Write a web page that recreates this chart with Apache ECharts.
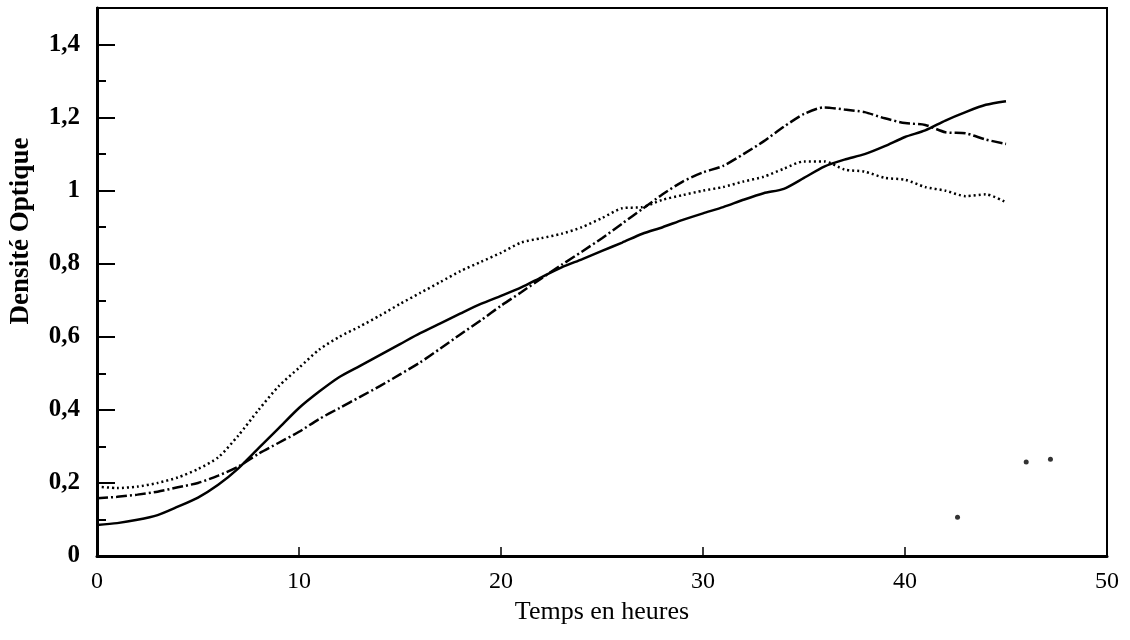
<!DOCTYPE html>
<html>
<head>
<meta charset="utf-8">
<title>Densité Optique</title>
<script src="https://cdn.jsdelivr.net/npm/echarts@6.0.0/dist/echarts.min.js"></script>
<style>
  html, body { margin: 0; padding: 0; background: #fff; }
  #chart { width: 1130px; height: 640px; }
</style>
</head>
<body>
<div id="chart"></div>
<script>
// temps en heures (lecture toutes les heures)
var hours = [0, 1, 2, 3, 4, 5, 6, 7, 8, 9, 10, 11, 12, 13, 14, 15, 16, 17, 18, 19, 20, 21, 22,
    23, 24, 25, 26, 27, 28, 29, 30, 31, 32, 33, 34, 35, 36, 37, 38, 39, 40, 41, 42, 43, 44, 45];

// courbe continue (départ 0,085)
var solidValues = [0.085, 0.090, 0.099, 0.112, 0.135, 0.160, 0.195, 0.240, 0.295, 0.350, 0.405,
    0.450, 0.490, 0.520, 0.550, 0.580, 0.610, 0.637, 0.664, 0.690, 0.712, 0.735, 0.763,
    0.790, 0.812, 0.835, 0.858, 0.882, 0.900, 0.920, 0.938, 0.955, 0.975, 0.993, 1.005,
    1.035, 1.066, 1.085, 1.100, 1.122, 1.147, 1.165, 1.192, 1.215, 1.235, 1.245];

// courbe tiret-point (départ 0,16)
var dashDotValues = [0.158, 0.162, 0.168, 0.176, 0.188, 0.200, 0.220, 0.245, 0.280, 0.310, 0.340,
    0.375, 0.405, 0.435, 0.465, 0.497, 0.530, 0.568, 0.607, 0.645, 0.685, 0.722, 0.760,
    0.797, 0.833, 0.870, 0.910, 0.950, 0.990, 1.025, 1.050, 1.068, 1.100, 1.135, 1.175,
    1.210, 1.228, 1.222, 1.215, 1.198, 1.185, 1.180, 1.160, 1.157, 1.140, 1.128];

// courbe pointillée (départ 0,19)
var dottedValues = [0.190, 0.186, 0.190, 0.200, 0.215, 0.238, 0.270, 0.330, 0.400, 0.465, 0.515,
    0.565, 0.600, 0.628, 0.658, 0.690, 0.720, 0.750, 0.780, 0.805, 0.830, 0.858, 0.870,
    0.882, 0.900, 0.925, 0.952, 0.955, 0.975, 0.988, 1.000, 1.010, 1.025, 1.038, 1.060,
    1.080, 1.080, 1.058, 1.052, 1.035, 1.030, 1.010, 1.000, 0.985, 0.990, 0.968];

// points isolés (taches du document)
var specks = [[42.6, 0.106], [46.0, 0.257], [47.2, 0.265]];

function pairs(xs, ys) {
    var out = [];
    for (var i = 0; i < xs.length; i++) out.push([xs[i], ys[i]]);
    return out;
}

var serif = '"Liberation Serif", "DejaVu Serif", serif';

var chart = echarts.init(document.getElementById('chart'));
var option = {
    animation: false,
    backgroundColor: '#fff',
    grid: {
        left: 97, right: 23, top: 8, bottom: 84,
        show: true,
        borderColor: '#000',
        borderWidth: 2
    },
    xAxis: {
        type: 'value',
        min: 0, max: 50, interval: 10,
        name: 'Temps en heures',
        nameLocation: 'middle',
        nameGap: 42,
        nameTextStyle: { fontFamily: serif, fontSize: 26, color: '#000' },
        axisLine: { show: true, lineStyle: { color: '#000', width: 3 } },
        axisTick: { show: true, inside: true, length: 9, lineStyle: { color: '#000', width: 1.5 } },
        axisLabel: { margin: 14, fontFamily: serif, fontSize: 24, color: '#000' },
        splitLine: { show: false }
    },
    yAxis: [
        {
            type: 'value',
            min: 0, max: 1.5, interval: 0.1,
            name: 'Densité Optique',
            nameLocation: 'middle',
            nameGap: 62,
            nameRotate: 90,
            nameTextStyle: {
                fontFamily: serif, fontSize: 27, fontWeight: 'bold', color: '#000',
                padding: [0, 0, 0, 102]
            },
            axisLine: { show: true, lineStyle: { color: '#000', width: 3 } },
            axisTick: { show: true, inside: true, length: 9, lineStyle: { color: '#000', width: 2 } },
            axisLabel: {
                margin: 17,
                fontFamily: serif, fontSize: 25, fontWeight: 'bold', color: '#000',
                formatter: function (v) {
                    var k = Math.round(v * 10);
                    if (k % 2 !== 0 || k > 14) return '';
                    return String(k / 10).replace('.', ',');
                }
            },
            splitLine: { show: false }
        },
        {
            type: 'value',
            position: 'left',
            min: 0, max: 1.5, interval: 0.2,
            axisLine: { show: false },
            axisTick: { show: true, inside: true, length: 18, lineStyle: { color: '#000', width: 2 } },
            axisLabel: { show: false },
            splitLine: { show: false }
        }
    ],
    series: [
        {
            name: 'continue',
            type: 'line',
            data: pairs(hours, solidValues),
            showSymbol: false,
            smooth: 0.25,
            lineStyle: { color: '#000', width: 2.5, type: 'solid' }
        },
        {
            name: 'tiret-point',
            type: 'line',
            data: pairs(hours, dashDotValues),
            showSymbol: false,
            smooth: 0.25,
            lineStyle: { color: '#000', width: 2.5, type: [11, 3, 2, 3] }
        },
        {
            name: 'pointillé',
            type: 'line',
            data: pairs(hours, dottedValues),
            showSymbol: false,
            smooth: 0.25,
            lineStyle: { color: '#000', width: 2.5, type: [2, 3] }
        },
        {
            name: 'taches',
            type: 'scatter',
            data: specks,
            symbolSize: 5,
            itemStyle: { color: '#000' }
        }
    ]
};
chart.setOption(option);
</script>
</body>
</html>
